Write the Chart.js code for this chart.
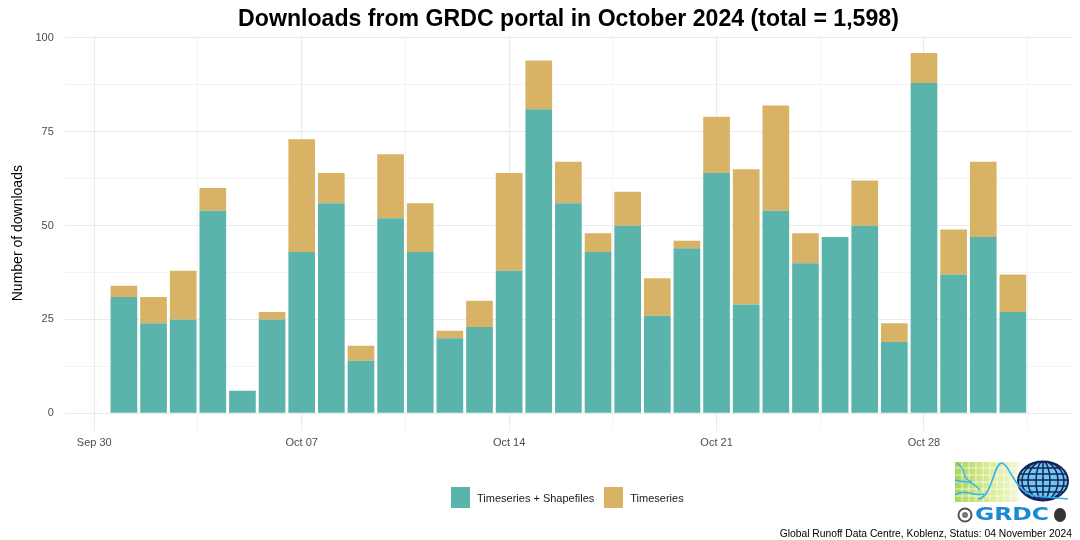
<!DOCTYPE html>
<html>
<head>
<meta charset="utf-8">
<script src="https://cdn.jsdelivr.net/npm/chart.js@4.4.1/dist/chart.umd.min.js"></script>
<style>
  html, body { margin: 0; padding: 0; background: #fff; }
  #wrap { position: relative; width: 1080px; height: 540px; font-family: "Liberation Sans", Arial, sans-serif; }
  #title { position: absolute; left: 65px; width: 1007px; top: 4px; text-align: center; font-weight: bold; font-size: 24px; color: #000; white-space: nowrap; transform: scaleX(0.963); }
  #legend { position: absolute; top: 487px; left: 451px; display: flex; align-items: center; font-size: 11px; color: #1a1a1a; }
  #legend .item { display: flex; align-items: center; margin-right: 10px; }
  #legend .key { width: 19px; height: 21px; margin-right: 7px; }
  #caption { position: absolute; right: 8px; top: 528px; font-size: 10.3px; color: #000; white-space: nowrap; }
</style>
</head>
<body>
<div id="wrap">
  <canvas id="chart" width="1080" height="540"></canvas>
  <div id="title">Downloads from GRDC portal in October 2024 (total = 1,598)</div>
  <div id="legend"></div>
  <div id="caption">Global Runoff Data Centre, Koblenz, Status: 04 November 2024</div>
</div>
<script>
// Daily downloads, October 2024 (x = days after Sep 30)
const days = [1, 2, 3, 4, 5, 6, 7, 8, 9, 10, 11, 12, 13, 14, 15, 16, 17, 18, 19, 20, 21, 22, 23, 24, 25, 26, 27, 28, 29, 30, 31];
const withShapefiles = [31, 24, 25, 54, 6, 25, 43, 56, 14, 52, 43, 20, 23, 38, 81, 56, 43, 50, 26, 44, 64, 29, 54, 40, 47, 50, 19, 88, 37, 47, 27];
const timeseriesOnly = [3, 7, 13, 6, 0, 2, 30, 8, 4, 17, 13, 2, 7, 26, 13, 11, 5, 9, 10, 2, 15, 36, 28, 8, 0, 12, 5, 8, 12, 20, 10];
const seriesNames = ['Timeseries + Shapefiles', 'Timeseries'];
const seriesColors = ['#5ab4ac', '#d8b365'];
const xTickDays = [0, 7, 14, 21, 28];
const xTickLabels = ['Sep 30', 'Oct 07', 'Oct 14', 'Oct 21', 'Oct 28'];
const yTicks = [0, 25, 50, 75, 100];

const GRID = '#ebebeb';
const TICK_FONT = { family: '"Liberation Sans", Arial, sans-serif', size: 11 };

// major gridlines plus a minor one half-way between each pair
function withMinor(majors, step, max) {
  const out = [];
  for (let v = majors[0]; v <= max; v += step / 2) {
    out.push({ value: v, major: majors.includes(v) });
  }
  return out;
}

// small GRDC logo in the lower right corner
const logoPlugin = {
  id: 'logo',
  afterDraw(chart) {
    const c = chart.ctx;
    c.save();
    const g = c.createLinearGradient(955, 0, 1018, 0);
    g.addColorStop(0, '#a8d45c');
    g.addColorStop(0.5, '#d6eb8c');
    g.addColorStop(1, '#f2f7d2');
    c.fillStyle = g;
    c.fillRect(955, 462, 64, 40);
    c.strokeStyle = 'rgba(255,255,255,0.7)';
    c.lineWidth = 1;
    for (let x = 962; x < 1019; x += 7) { c.beginPath(); c.moveTo(x, 462); c.lineTo(x, 502); c.stroke(); }
    for (let y = 468; y < 502; y += 7) { c.beginPath(); c.moveTo(955, y); c.lineTo(1019, y); c.stroke(); }
    c.strokeStyle = '#33b5f0';
    c.lineWidth = 1.4;
    c.beginPath(); c.moveTo(957, 463); c.bezierCurveTo(968, 470, 960, 478, 972, 482); c.stroke();
    c.beginPath(); c.moveTo(955, 480); c.bezierCurveTo(965, 484, 970, 478, 980, 490); c.stroke();
    c.beginPath(); c.moveTo(955, 495); c.bezierCurveTo(966, 488, 972, 497, 984, 494); c.stroke();
    // globe
    c.beginPath(); c.ellipse(1043, 481, 25, 19.5, 0, 0, Math.PI * 2);
    c.fillStyle = '#72c7ee'; c.fill();
    c.save(); c.clip();
    c.strokeStyle = '#13245a'; c.lineWidth = 1.5;
    for (let y = 468; y < 500; y += 6) { c.beginPath(); c.moveTo(1016, y); c.lineTo(1070, y); c.stroke(); }
    for (const rx of [7, 15, 21]) {
      c.beginPath(); c.ellipse(1043, 481, rx, 19.5, 0, 0, Math.PI * 2); c.stroke();
    }
    c.beginPath(); c.moveTo(1043, 460); c.lineTo(1043, 502); c.stroke();
    c.restore();
    c.beginPath(); c.ellipse(1043, 481, 25, 19.5, 0, 0, Math.PI * 2);
    c.strokeStyle = '#13245a'; c.lineWidth = 2; c.stroke();
    // hydrograph
    c.strokeStyle = '#2fb3f2'; c.lineWidth = 1.6;
    c.beginPath(); c.moveTo(978, 499);
    c.bezierCurveTo(992, 498, 994, 462, 1002, 463);
    c.bezierCurveTo(1010, 464, 1014, 492, 1035, 496);
    c.lineTo(1068, 499); c.stroke();
    // emblems and name
    c.strokeStyle = '#555'; c.lineWidth = 2;
    c.beginPath(); c.arc(965, 515, 6.5, 0, Math.PI * 2); c.stroke();
    c.fillStyle = '#777';
    c.beginPath(); c.arc(965, 515, 3, 0, Math.PI * 2); c.fill();
    c.fillStyle = '#333';
    c.beginPath(); c.ellipse(1060, 515, 6, 7, 0, 0, Math.PI * 2); c.fill();
    c.fillStyle = '#1b8ad3';
    c.font = 'bold 17px "DejaVu Sans", sans-serif';
    c.textBaseline = 'alphabetic';
    c.translate(975, 520);
    c.scale(1.38, 1);
    c.fillText('GRDC', 0, 0);
    c.restore();
  }
};

const chart = new Chart(document.getElementById('chart'), {
  type: 'bar',
  data: {
    datasets: [
      { label: seriesNames[0], data: days.map((d, i) => ({ x: d, y: withShapefiles[i] })), backgroundColor: seriesColors[0] },
      { label: seriesNames[1], data: days.map((d, i) => ({ x: d, y: timeseriesOnly[i] })), backgroundColor: seriesColors[1] },
    ],
  },
  options: {
    responsive: false,
    devicePixelRatio: 1,
    animation: false,
    barPercentage: 0.9,
    categoryPercentage: 1,
    layout: { padding: { top: 35, right: 8, left: 0, bottom: 0 } },
    plugins: {
      legend: { display: false },
      title: { display: false },
      tooltip: { enabled: false },
    },
    scales: {
      x: {
        type: 'linear',
        stacked: true,
        min: -0.995,
        max: 32.995,
        offset: false,
        border: { display: false },
        grid: {
          offset: false,
          drawTicks: false,
          color: GRID,
          lineWidth: ctx => (ctx.tick && ctx.tick.major ? 1.1 : 0.55),
        },
        afterBuildTicks: s => { s.ticks = withMinor(xTickDays, 7, 32); },
        afterFit: s => { s.height = 108.7; },
        ticks: {
          autoSkip: false,
          maxRotation: 0,
          padding: 5,
          color: '#4d4d4d',
          font: TICK_FONT,
          callback: v => { const i = xTickDays.indexOf(v); return i >= 0 ? xTickLabels[i] : ''; },
        },
      },
      y: {
        stacked: true,
        min: -4.8,
        max: 100.8,
        border: { display: false },
        grid: {
          drawTicks: false,
          color: GRID,
          lineWidth: ctx => (ctx.tick && ctx.tick.major ? 1.1 : 0.55),
        },
        afterBuildTicks: s => { s.ticks = withMinor(yTicks, 25, 100); },
        afterFit: s => { s.width = 64.8; },
        ticks: {
          padding: 11,
          color: '#4d4d4d',
          font: TICK_FONT,
          callback: v => (yTicks.includes(v) ? String(v) : ''),
        },
        title: {
          display: true,
          text: 'Number of downloads',
          color: '#000',
          font: { family: TICK_FONT.family, size: 14 },
          padding: { top: 10, bottom: 0 },
        },
      },
    },
  },
  plugins: [logoPlugin],
});

document.getElementById('legend').innerHTML = seriesNames.map((n, i) =>
  `<div class="item"><div class="key" style="background:${seriesColors[i]}"></div><span>${n}</span></div>`
).join('');
</script>
</body>
</html>
